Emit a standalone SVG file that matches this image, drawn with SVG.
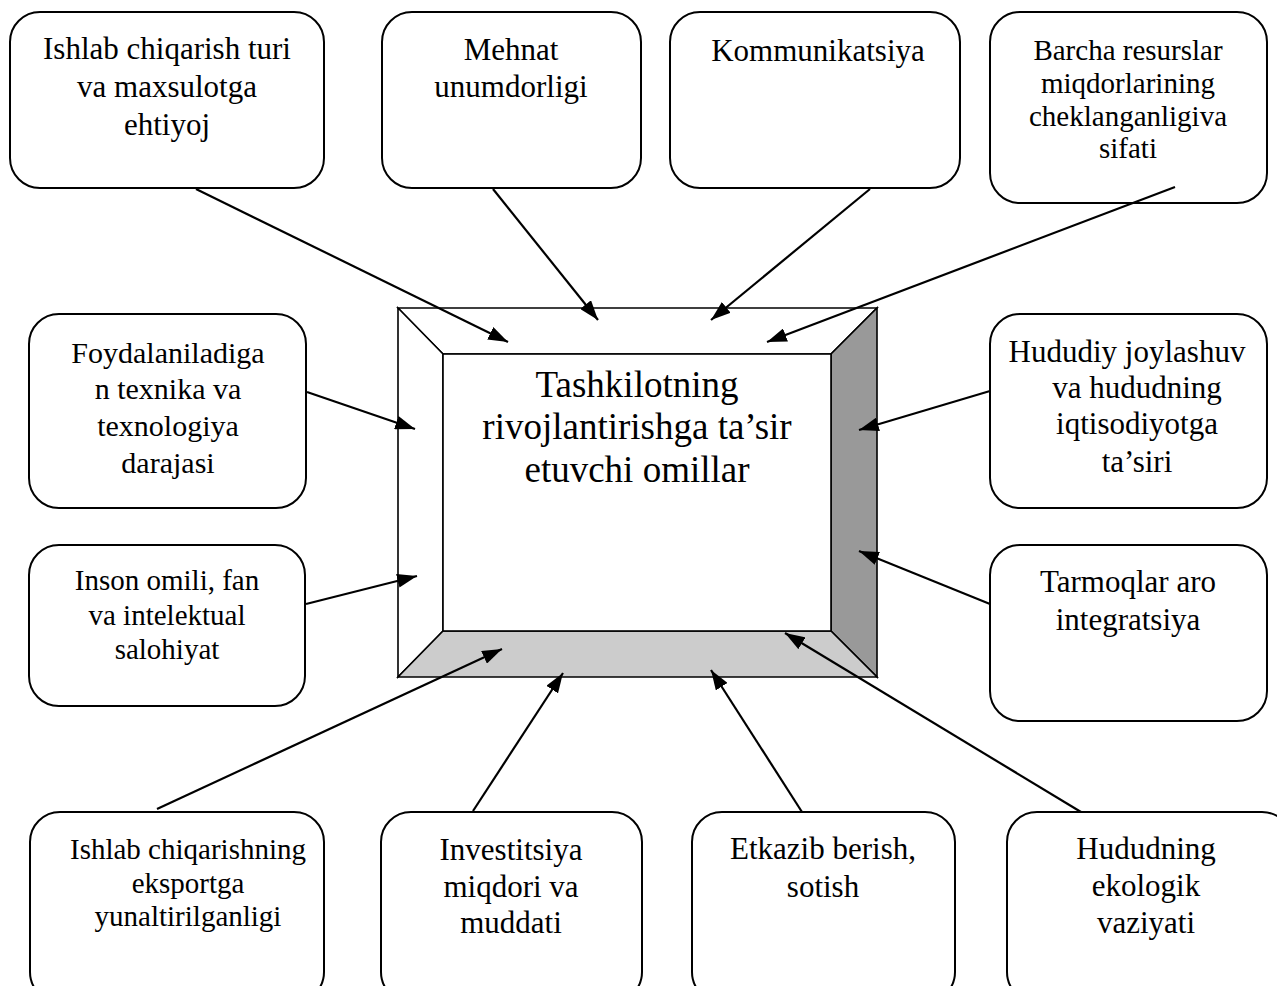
<svg xmlns="http://www.w3.org/2000/svg" width="1277" height="986" viewBox="0 0 1277 986">
<defs>
<style>
.box{fill:#fff;stroke:#000;stroke-width:2}
.t{font-family:"Liberation Serif","Times New Roman",serif;fill:#000;text-anchor:middle}
.conn line{stroke:#000;stroke-width:2.2;marker-end:url(#ah)}
.bev{stroke:#000;stroke-width:1.6;stroke-linejoin:miter}
</style>
<marker id="ah" viewBox="0 0 10 7" refX="10" refY="3.5" markerWidth="9" markerHeight="6.3" markerUnits="strokeWidth" orient="auto">
<path d="M0,0 L10,3.5 L0,7 z" fill="#000"/>
</marker>
</defs>
<rect width="1277" height="986" fill="#fff"/>

<g id="center">
<polygon class="bev" points="398,308 877,308 831,354 443,354" fill="#fff"/>
<polygon class="bev" points="398,308 443,354 443,631 398,677" fill="#fff"/>
<polygon class="bev" points="877,308 877,677 831,631 831,354" fill="#999999"/>
<polygon class="bev" points="398,677 877,677 831,631 443,631" fill="#cccccc"/>
<rect x="443" y="354" width="388" height="277" fill="#fff" stroke="#000" stroke-width="1.6"/>
<text class="t" font-size="37"><tspan x="637" y="397">Tashkilotning</tspan><tspan x="637" y="439">rivojlantirishga ta’sir</tspan><tspan x="637" y="482">etuvchi omillar</tspan></text>
</g>

<g id="n1">
<rect class="box" x="10" y="12" width="314" height="176" rx="30"/>
<text class="t" font-size="31"><tspan x="167" y="59">Ishlab chiqarish turi</tspan><tspan x="167" y="97">va maxsulotga</tspan><tspan x="167" y="135">ehtiyoj</tspan></text>
</g>
<g id="n2">
<rect class="box" x="382" y="12" width="259" height="176" rx="30"/>
<text class="t" font-size="31"><tspan x="511" y="60">Mehnat</tspan><tspan x="511" y="97">unumdorligi</tspan></text>
</g>
<g id="n3">
<rect class="box" x="670" y="12" width="290" height="176" rx="30"/>
<text class="t" font-size="31"><tspan x="818" y="61">Kommunikatsiya</tspan></text>
</g>
<g id="n4">
<rect class="box" x="990" y="12" width="277" height="191" rx="30"/>
<text class="t" font-size="29"><tspan x="1128" y="60">Barcha resurslar</tspan><tspan x="1128" y="93">miqdorlarining</tspan><tspan x="1128" y="126">cheklanganligiva</tspan><tspan x="1128" y="158">sifati</tspan></text>
</g>

<g id="n5">
<rect class="box" x="29" y="314" width="277" height="194" rx="30"/>
<text class="t" font-size="30"><tspan x="168" y="363">Foydalaniladiga</tspan><tspan x="168" y="399">n texnika va</tspan><tspan x="168" y="436">texnologiya</tspan><tspan x="168" y="473">darajasi</tspan></text>
</g>
<g id="n6">
<rect class="box" x="29" y="545" width="276" height="161" rx="30"/>
<text class="t" font-size="29"><tspan x="167" y="590">Inson omili, fan</tspan><tspan x="167" y="625">va intelektual</tspan><tspan x="167" y="659">salohiyat</tspan></text>
</g>
<g id="n7">
<rect class="box" x="990" y="314" width="277" height="194" rx="30"/>
<text class="t" font-size="31"><tspan x="1127" y="362">Hududiy joylashuv</tspan><tspan x="1137" y="398">va hududning</tspan><tspan x="1137" y="434">iqtisodiyotga</tspan><tspan x="1137" y="472">ta’siri</tspan></text>
</g>
<g id="n8">
<rect class="box" x="990" y="545" width="277" height="176" rx="30"/>
<text class="t" font-size="31"><tspan x="1128" y="592">Tarmoqlar aro</tspan><tspan x="1128" y="630">integratsiya</tspan></text>
</g>

<g id="n9">
<rect class="box" x="30" y="812" width="294" height="190" rx="30"/>
<text class="t" font-size="29"><tspan x="188" y="859">Ishlab chiqarishning</tspan><tspan x="188" y="893">eksportga</tspan><tspan x="188" y="926">yunaltirilganligi</tspan></text>
</g>
<g id="n10">
<rect class="box" x="381" y="812" width="261" height="190" rx="30"/>
<text class="t" font-size="31"><tspan x="511" y="860">Investitsiya</tspan><tspan x="511" y="897">miqdori va</tspan><tspan x="511" y="933">muddati</tspan></text>
</g>
<g id="n11">
<rect class="box" x="692" y="812" width="263" height="190" rx="30"/>
<text class="t" font-size="31"><tspan x="823" y="859">Etkazib berish,</tspan><tspan x="823" y="897">sotish</tspan></text>
</g>
<g id="n12">
<rect class="box" x="1007" y="812" width="285" height="190" rx="30"/>
<text class="t" font-size="31"><tspan x="1146" y="859">Hududning</tspan><tspan x="1146" y="896">ekologik</tspan><tspan x="1146" y="933">vaziyati</tspan></text>
</g>

<g id="connectors" class="conn">
<line x1="196" y1="189" x2="508" y2="342"/>
<line x1="493" y1="189" x2="598" y2="320"/>
<line x1="870" y1="189" x2="711" y2="320"/>
<line x1="1175" y1="187" x2="767" y2="342"/>
<line x1="307" y1="392" x2="415" y2="429"/>
<line x1="306" y1="604" x2="417" y2="576"/>
<line x1="990" y1="391" x2="859" y2="430"/>
<line x1="990" y1="604" x2="859" y2="551"/>
<line x1="157" y1="809" x2="502" y2="649"/>
<line x1="473" y1="811" x2="563" y2="673"/>
<line x1="802" y1="812" x2="711" y2="670"/>
<line x1="1081" y1="812" x2="785" y2="633"/>
</g>
</svg>
